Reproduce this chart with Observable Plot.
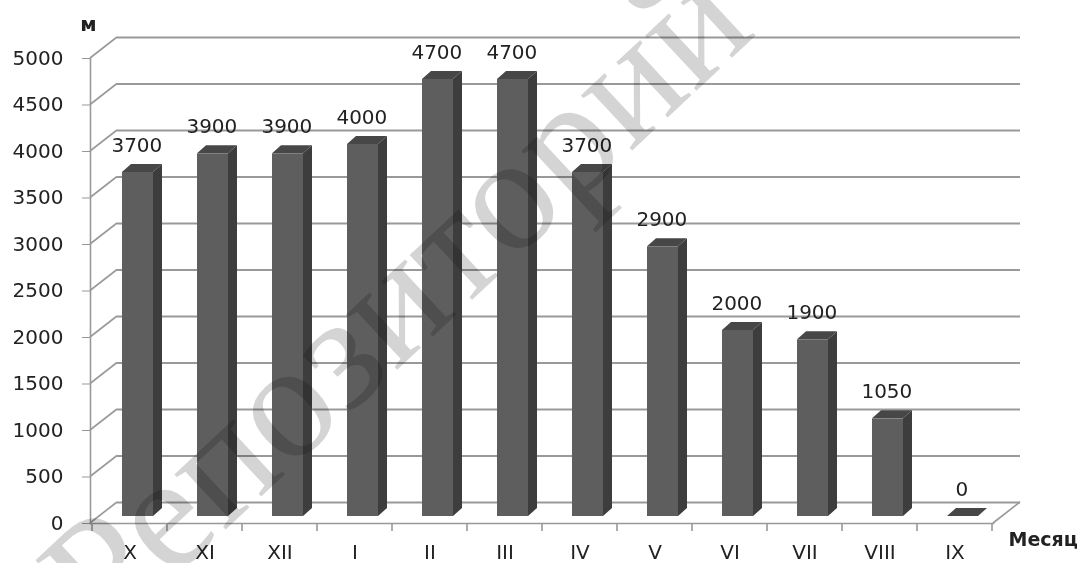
<!DOCTYPE html>
<html>
<head>
<meta charset="utf-8">
<script src="https://cdn.jsdelivr.net/npm/d3@7"></script>
<script src="https://cdn.jsdelivr.net/npm/@observablehq/plot@0.6"></script>
<style>
  html, body { margin: 0; padding: 0; background: #fff; }
  svg { display: block; }
</style>
</head>
<body>
<div id="chart"></div>
<script>
// Monthly values (м) by month, October through September
const months = ["X", "XI", "XII", "I", "II", "III", "IV", "V", "VI", "VII", "VIII", "IX"];
const depths = [3700, 3900, 3900, 4000, 4700, 4700, 3700, 2900, 2000, 1900, 1050, 0];
const yTicks = [0, 500, 1000, 1500, 2000, 2500, 3000, 3500, 4000, 4500, 5000];
const yUnit = "м";
const xTitle = "Месяц";
const watermark = "Репозиторий";

const data = months.map((month, i) => ({month, value: depths[i]}));

// Pseudo-3D geometry (pixels)
const WALL = {dx: 27, dy: -21};                             // depth of the back wall
const BAR = {inset: 30, width: 31, lift: -7, dx: 9, dy: -8}; // bar placement and thickness
const GRID = "#999999";
const FRONT = "#5e5e5e", TOP = "#474747", SIDE = "#3d3d3d";

// Diagonal wall edges, right floor edge and category boundary ticks
function scaffold(index, scales, values, dims) {
  const left = dims.marginLeft, right = dims.width - dims.marginRight;
  const g = d3.create("svg:g")
    .attr("fill", "none").attr("stroke", GRID).attr("stroke-width", 1.6);
  for (const i of index) {
    const y = scales.y(yTicks[i]);
    g.append("line").attr("x1", left).attr("y1", y)
      .attr("x2", left + WALL.dx).attr("y2", y + WALL.dy);
  }
  const y0 = scales.y(0);
  g.append("line").attr("x1", right).attr("y1", y0)
    .attr("x2", right + WALL.dx).attr("y2", y0 + WALL.dy);
  const step = scales.x(months[1]) - scales.x(months[0]);
  for (let k = 0; k <= months.length; ++k) {
    const x = scales.x(months[0]) + k * step;
    g.append("line").attr("x1", x).attr("y1", y0).attr("x2", x).attr("y2", y0 + 8);
  }
  return g.node();
}

// Solid 3D columns: front face, top face and right side face
function prisms(index, scales) {
  const g = d3.create("svg:g");
  for (const i of index) {
    const d = data[i];
    const x0 = scales.x(d.month) + BAR.inset, x1 = x0 + BAR.width;
    const yb = scales.y(0) + BAR.lift, yt = scales.y(d.value) + BAR.lift;
    const {dx, dy} = BAR;
    if (yb - yt > 0.5) {
      g.append("path").attr("fill", SIDE)
        .attr("d", `M${x1},${yb}L${x1},${yt}L${x1 + dx},${yt + dy}L${x1 + dx},${yb + dy}Z`);
    }
    g.append("path").attr("fill", TOP)
      .attr("d", `M${x0},${yt}L${x1},${yt}L${x1 + dx},${yt + dy}L${x0 + dx},${yt + dy}Z`);
    if (yb - yt > 0.5) {
      g.append("rect").attr("fill", FRONT)
        .attr("x", x0).attr("y", yt).attr("width", BAR.width).attr("height", yb - yt);
    }
  }
  return g.node();
}

const bandStep = (1084 - 90 - 91) / months.length;

const chart = Plot.plot({
  width: 1084,
  height: 563,
  marginLeft: 90,
  marginRight: 91,
  marginTop: 58,
  marginBottom: 40,
  style: {fontFamily: "DejaVu Sans", fontSize: "20px", color: "#222", background: "#fff"},
  x: {type: "band", domain: months, padding: 0, label: null},
  y: {domain: [0, 5000], label: null},
  marks: [
    // back wall grid lines
    Plot.ruleY(yTicks, {dx: WALL.dx, dy: WALL.dy, stroke: GRID, strokeWidth: 1.8}),
    Plot.ruleY(yTicks, {render: scaffold}),
    Plot.frame({anchor: "left", stroke: GRID, strokeWidth: 1.6}),
    Plot.frame({anchor: "bottom", stroke: GRID, strokeWidth: 1.6}),
    Plot.barY(data, {x: "month", y: "value", render: prisms}),
    Plot.axisY({ticks: yTicks, tickFormat: d3.format("d"), tickSize: 8, tickPadding: 19, stroke: GRID, label: null}),
    Plot.axisX({tickSize: 0, tickPadding: 21, label: null}),
    Plot.text(data, {
      x: "month", y: "value", text: d => String(d.value),
      dx: BAR.inset + BAR.width / 2 - bandStep / 2 - 1,
      dy: BAR.lift - 27
    }),
    Plot.text([yUnit], {frameAnchor: "top-left", dx: -2, dy: -42, fontWeight: "bold", textAnchor: "middle"}),
    Plot.text([xTitle], {frameAnchor: "bottom-right", dx: 15, dy: 22, fontSize: 19, fontWeight: "bold", textAnchor: "start"}),
    Plot.text([watermark], {
      frameAnchor: "middle", dx: -146, dy: 8, rotate: -43,
      fontFamily: "Liberation Serif", fontSize: 164, fill: "#d4d4d4", mixBlendMode: "multiply"
    })
  ]
});

document.getElementById("chart").append(chart);
</script>
</body>
</html>
